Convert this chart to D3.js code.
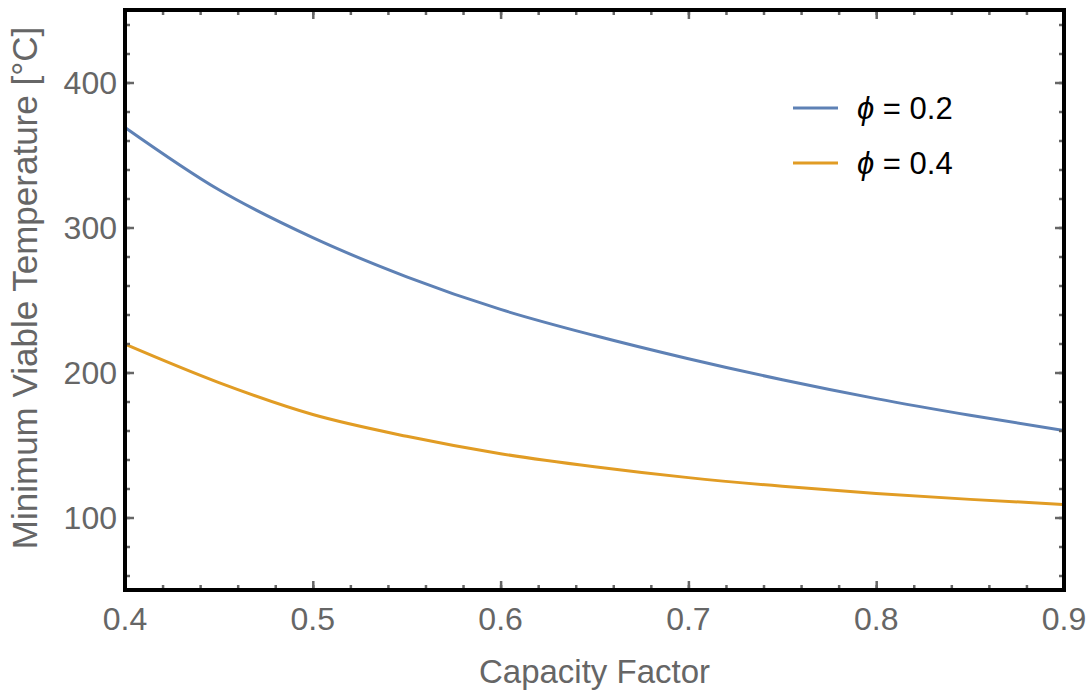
<!DOCTYPE html>
<html>
<head>
<meta charset="utf-8">
<script src="https://cdn.jsdelivr.net/npm/d3@7"></script>
<style>
  body { margin: 0; background: #fff; }
  svg text { font-family: "Liberation Sans", Arial, sans-serif; }
</style>
</head>
<body>
<div class="chart"></div>
<script>
// data
const capacityFactor = [0.40, 0.45, 0.50, 0.55, 0.60, 0.65, 0.70, 0.75, 0.80, 0.85, 0.90];
const tempPhi02 = [369, 326, 293, 266, 243.5, 225.5, 209.5, 195, 182, 170.5, 160];
const tempPhi04 = [219.5, 193, 171, 156, 144, 135, 127.5, 121.5, 116.5, 112.5, 109];
const seriesNames = ["0.2", "0.4"];
const seriesColors = ["#5e81b5", "#e19c24"];
const xTickLabels = [0.4, 0.5, 0.6, 0.7, 0.8, 0.9];
const yTickLabels = [100, 200, 300, 400];

const width = 1089, height = 691;
const margin = { top: 10, right: 25, bottom: 101, left: 125 };
const innerWidth = width - margin.left - margin.right;
const innerHeight = height - margin.top - margin.bottom;

let svg = d3.select(".chart").append("svg")
    .attr("width", width)
    .attr("height", height);

let x = d3.scaleLinear().domain([0.4, 0.9]).range([margin.left, margin.left + innerWidth]);
let y = d3.scaleLinear().domain([50, 450]).range([margin.top + innerHeight, margin.top]);

// ----- curves -----
const series = [tempPhi02, tempPhi04];
let line = d3.line()
    .curve(d3.curveMonotoneX)
    .x((d, i) => x(capacityFactor[i]))
    .y(d => y(d));

svg.append("g")
    .selectAll("path")
    .data(series)
    .enter()
        .append("path")
        .attr("d", line)
        .attr("fill", "none")
        .attr("stroke", (d, i) => seriesColors[i])
        .attr("stroke-width", 3)
        .attr("stroke-linejoin", "round");

// ----- frame + ticks (all four sides, pointing inward) -----
const xMinor = d3.range(0.4, 0.9001, 0.02).map(v => +v.toFixed(2));
const yMinor = d3.range(60, 450, 20);
const tickColor = "#666";
const frame = svg.append("g");

const x0 = margin.left, x1 = margin.left + innerWidth;
const y0 = margin.top, y1 = margin.top + innerHeight;

function addTicks(axis, transform) {
    frame.append("g")
        .attr("transform", transform)
        .call(axis)
        .call(g => g.select(".domain").remove())
        .call(g => g.selectAll("text").remove())
        .call(g => g.selectAll("line").attr("stroke", tickColor).attr("stroke-width", 2.5));
}

// bottom & top
[[d3.axisTop, y1], [d3.axisBottom, y0]].forEach(([fn, pos]) => {
    addTicks(fn(x).tickValues(xMinor).tickSize(5), "translate(0," + pos + ")");
    addTicks(fn(x).tickValues(xTickLabels).tickSize(9), "translate(0," + pos + ")");
});

// left & right
[[d3.axisRight, x0], [d3.axisLeft, x1]].forEach(([fn, pos]) => {
    addTicks(fn(y).tickValues(yMinor).tickSize(5), "translate(" + pos + ",0)");
    addTicks(fn(y).tickValues(yTickLabels).tickSize(9), "translate(" + pos + ",0)");
});

frame.append("rect")
    .attr("x", x0)
    .attr("y", y0)
    .attr("width", innerWidth)
    .attr("height", innerHeight)
    .attr("fill", "none")
    .attr("stroke", "#000")
    .attr("stroke-width", 4);

// ----- tick labels -----
svg.append("g")
    .selectAll("text")
    .data(xTickLabels)
    .enter()
        .append("text")
        .text(d => d.toFixed(1))
        .attr("x", d => x(d))
        .attr("y", y1 + 40)
        .attr("text-anchor", "middle")
        .attr("font-size", 32)
        .attr("fill", "#666");

svg.append("g")
    .selectAll("text")
    .data(yTickLabels)
    .enter()
        .append("text")
        .text(d => d)
        .attr("x", x0 - 8)
        .attr("y", d => y(d))
        .attr("dy", "0.36em")
        .attr("text-anchor", "end")
        .attr("font-size", 32)
        .attr("fill", "#666");

// ----- axis titles -----
svg.append("text")
    .text("Capacity Factor")
    .attr("x", x0 + innerWidth / 2)
    .attr("y", 683)
    .attr("text-anchor", "middle")
    .attr("font-size", 33)
    .attr("fill", "#666");

svg.append("text")
    .text("Minimum Viable Temperature [°C]")
    .attr("transform", "translate(37," + (y0 + innerHeight / 2 - 12) + ") rotate(-90)")
    .attr("text-anchor", "middle")
    .attr("font-size", 35)
    .attr("fill", "#666");

// ----- legend -----
let legend = svg.append("g")
    .selectAll("g")
    .data(seriesNames)
    .enter()
        .append("g")
        .attr("transform", (d, i) => "translate(793," + (108 + 55 * i) + ")");

legend.append("line")
    .attr("x1", 0)
    .attr("x2", 45)
    .attr("stroke", (d, i) => seriesColors[i])
    .attr("stroke-width", 3);

let legendText = legend.append("text")
    .attr("x", 64)
    .attr("dy", "0.36em")
    .attr("font-size", 31)
    .attr("fill", "#000");

legendText.append("tspan")
    .attr("font-style", "italic")
    .text("ϕ");
legendText.append("tspan")
    .text(d => " = " + d);
</script>
</body>
</html>
